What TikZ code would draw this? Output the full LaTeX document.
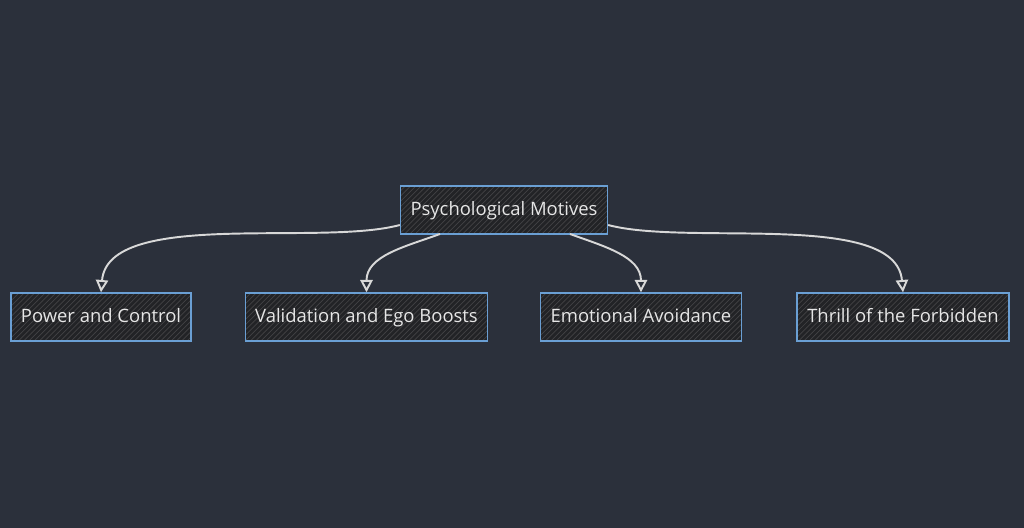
\documentclass[tikz,border=0pt]{standalone}
\usepackage{fontspec}
\setmainfont{Open Sans}
\usetikzlibrary{arrows.meta,patterns}
\definecolor{bgc}{HTML}{2B303B}
\definecolor{boxfill}{HTML}{222326}
\definecolor{boxline}{HTML}{6A9FD4}
\definecolor{txt}{HTML}{E6E6E6}
\definecolor{edgec}{HTML}{D8D8D8}
\begin{document}
\begin{tikzpicture}[
  motive/.style={draw=boxline, thick, text=txt, minimum height=0.96cm,
    inner xsep=0.2cm, text depth=0.25ex, font=\fontsize{10.5}{12}\selectfont,
    preaction={fill=boxfill},
    preaction={pattern=north east lines, pattern color=gray!35!boxfill}},
  link/.style={draw=edgec, line width=1.1pt, -{Triangle[open,length=7pt,width=7pt]}}]
  % Hintergrund
  \fill[bgc] (0,0) rectangle (20.48,10.56);
  % Knoten
  \node[motive, minimum width=4.04cm] (pm) at (10.08,6.36) {Psychological Motives};
  \node[motive, minimum width=3.52cm] (pc) at (2.02,4.22) {Power and Control};
  \node[motive, minimum width=4.74cm] (ve) at (7.33,4.22) {Validation and Ego Boosts};
  \node[motive, minimum width=3.92cm] (ea) at (12.82,4.22) {Emotional Avoidance};
  \node[motive, minimum width=4.24cm] (tf) at (18.06,4.22) {Thrill of the Forbidden};
  % Kanten
  \draw[link] (pm.west |- 0,6.06) to[out=195,in=85,looseness=0.7] (pc.north);
  \draw[link] (8.8,5.88) to[out=200,in=90] (ve.north);
  \draw[link] (11.4,5.88) to[out=-20,in=90] (ea.north);
  \draw[link] (pm.east |- 0,6.06) to[out=-15,in=95,looseness=0.7] (tf.north);
\end{tikzpicture}
\end{document}
